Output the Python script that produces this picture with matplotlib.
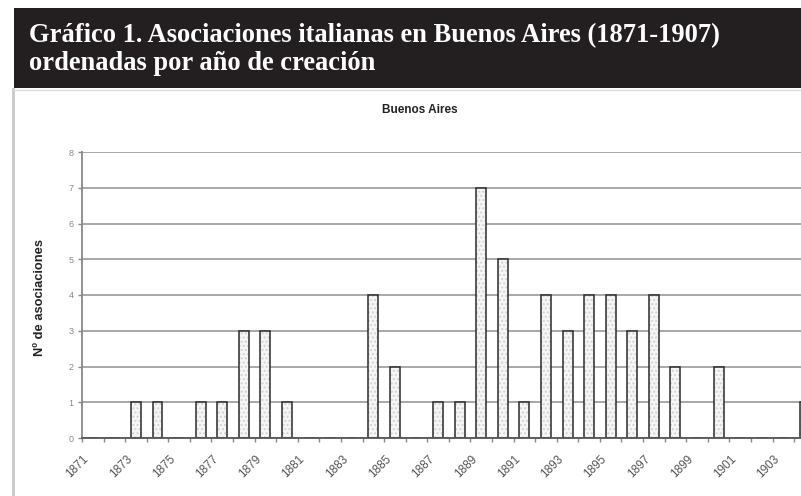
import matplotlib
matplotlib.use("Agg")
import matplotlib.pyplot as plt
from matplotlib.patches import Rectangle
from matplotlib.lines import Line2D
from matplotlib.transforms import ScaledTranslation

# ---- data ----
years = list(range(1871, 1905))
counts = [0, 0, 1, 1, 0, 1, 1, 3, 3, 1, 0, 0, 0, 4, 2, 0, 1, 1, 7, 5,
          1, 4, 3, 4, 4, 3, 4, 2, 0, 2, 0, 0, 0, 1]
axis_years = list(range(1871, 1908))          # full category axis 1871-1907
label_years = list(range(1871, 1905, 2))      # visible tick labels
y_ticks = list(range(0, 9))

title_line1 = "Gráfico 1. Asociaciones italianas en Buenos Aires (1871-1907)"
title_line2 = "ordenadas por año de creación"
chart_title = "Buenos Aires"
y_label = "Nº de asociaciones"

W, H = 801, 496
fig = plt.figure(figsize=(W / 100, H / 100), dpi=100)
fig.patch.set_facecolor("white")

def fx(px):
    return px / W

def fy(py):
    return 1 - py / H

SERIF = ["Liberation Serif", "DejaVu Serif"]
SANS = ["Liberation Sans", "DejaVu Sans"]

# black title band
fig.add_artist(Rectangle((fx(14), fy(88)), fx(801 - 14), 80 / H,
                         transform=fig.transFigure, facecolor="#231f20",
                         edgecolor="none", zorder=0))
fig.text(fx(29), fy(42), title_line1, color="white", fontsize=19.1,
         fontweight="bold", family=SERIF, ha="left", va="baseline")
fig.text(fx(29), fy(70), title_line2, color="white", fontsize=19.1,
         fontweight="bold", family=SERIF, ha="left", va="baseline")

# chart frame (left border)
fig.add_artist(Line2D([fx(13), fx(13)], [fy(89), 0], transform=fig.transFigure,
                      color="#c8c8c8", lw=2))
fig.add_artist(Line2D([fx(13), 1], [fy(89.5), fy(89.5)], transform=fig.transFigure,
                      color="#dcdcdc", lw=1))

# chart title
fig.text(fx(420), fy(110), chart_title, fontsize=8.5, fontweight="bold",
         family=SANS, color="#222", ha="center", va="center")

# axes: categories wider than the figure (the reference is cropped at the right)
cat_w = 21.58
n_cat = len(axis_years)
ax = fig.add_axes([fx(82), 58 / H, n_cat * cat_w / W, 286 / H])
ax.set_facecolor("white")

idx = {y: i for i, y in enumerate(axis_years)}
xs = [idx[y] for y in years]
# light dotted fill, then dark outline
ax.bar(xs, counts, width=0.46, facecolor="#f6f6f6", edgecolor="#d2d2d2",
       linewidth=0, hatch="....", zorder=3)
ax.bar(xs, counts, width=0.46, facecolor="none", edgecolor="#2a2a2a",
       linewidth=1.1, zorder=3.5)

ax.set_xlim(-0.5, n_cat - 0.5)
ax.set_ylim(0, 8)

# grid
ax.set_yticks(y_ticks)
ax.set_yticklabels([str(v) for v in y_ticks], fontsize=6.5, color="#888",
                   family=SANS)
ax.yaxis.grid(True, color="#a0a0a0", lw=1.3, zorder=0)
ax.tick_params(axis="y", length=3, width=1, color="#888", pad=3)

# x ticks
ax.set_xticks([idx[y] for y in label_years])
ax.set_xticklabels([str(y) for y in label_years], rotation=45, ha="right",
                   rotation_mode="anchor", fontsize=8.5, color="#555",
                   family=SANS)
ax.set_xticks([i - 0.5 for i in range(n_cat + 1)], minor=True)
ax.tick_params(axis="x", which="major", length=0, pad=11)
ax.tick_params(axis="x", which="minor", length=3, width=1, color="#888")
off = ScaledTranslation(-0.10, 0, fig.dpi_scale_trans)
for lab in ax.get_xticklabels():
    lab.set_transform(lab.get_transform() + off)

for s in ["top", "right"]:
    ax.spines[s].set_visible(False)
ax.spines["left"].set_color("#888")
ax.spines["left"].set_linewidth(1.3)
ax.spines["bottom"].set_color("#555")
ax.spines["bottom"].set_linewidth(1.3)
ax.spines["bottom"].set_zorder(4)

fig.text(fx(40), fy(298), y_label, rotation=90, fontsize=9.3, fontweight="bold",
         family=SANS, color="#222", ha="center", va="center")

fig.savefig("out.png", dpi=100)
